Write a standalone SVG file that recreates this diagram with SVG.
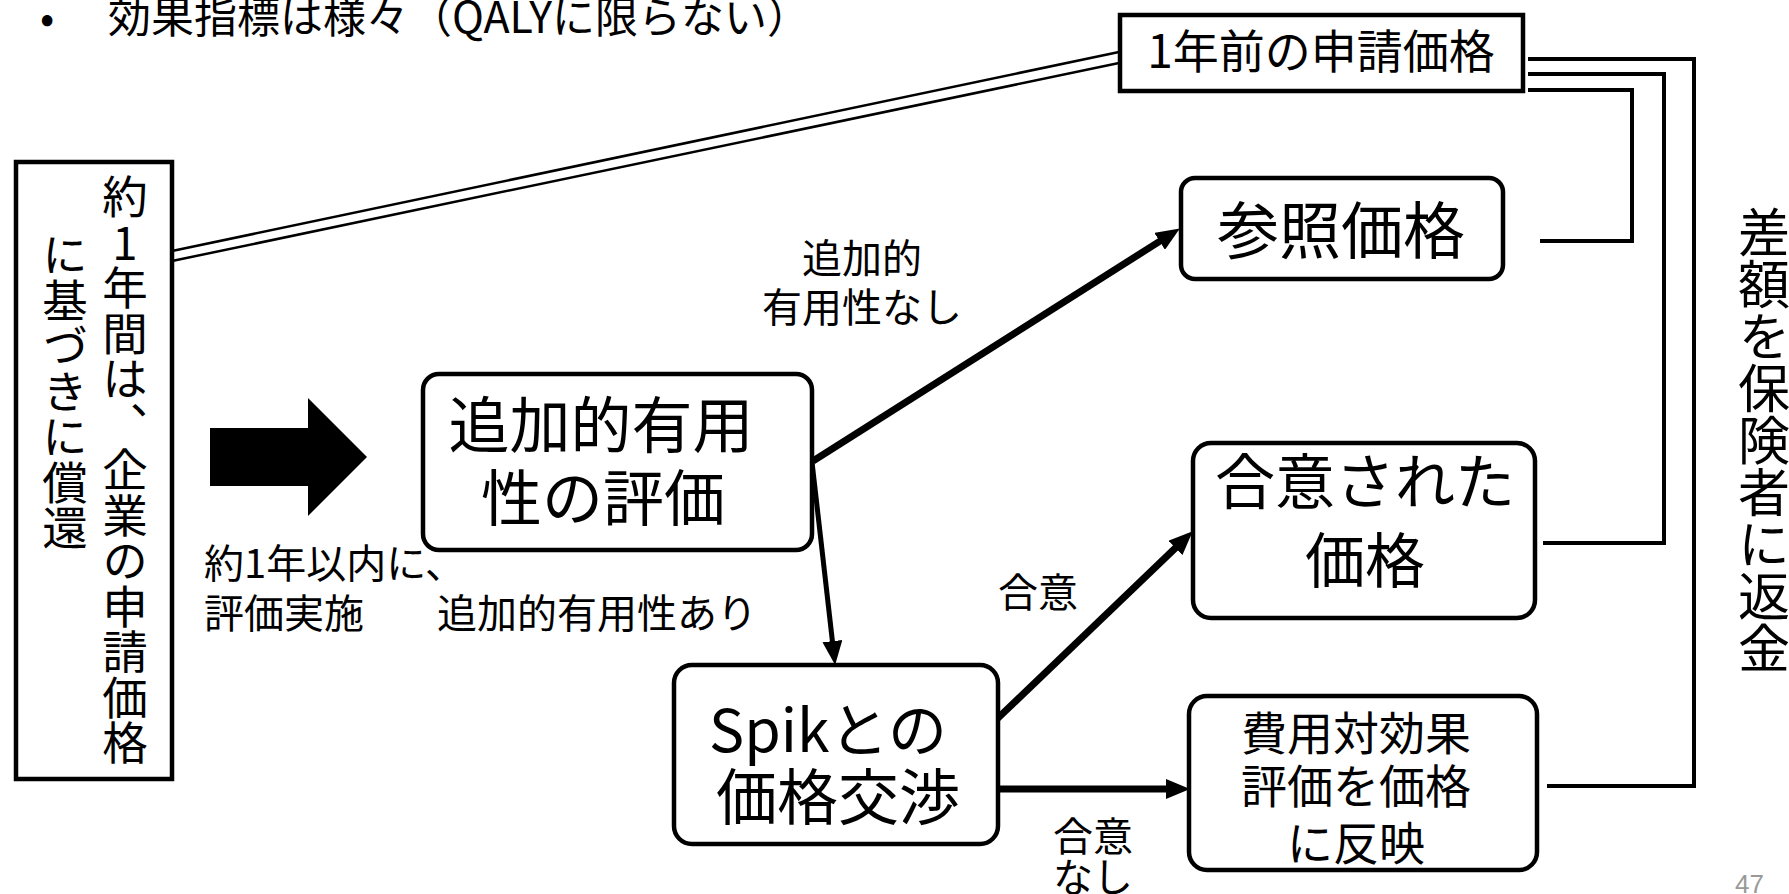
<svg xmlns="http://www.w3.org/2000/svg" width="1789" height="894" viewBox="0 0 1789 894">
<style>
  .t { font-family: "Noto Sans CJK JP", "Noto Sans", sans-serif; fill: #000; }
  .box { fill: #fff; stroke: #000; stroke-width: 4.5; }
  .conn { fill: none; stroke: #000; }
  .vert { writing-mode: vertical-rl; text-orientation: upright; }
</style>
<defs>
  <marker id="ah" viewBox="0 0 24 20" markerUnits="userSpaceOnUse" markerWidth="24" markerHeight="20" refX="7" refY="10" orient="auto">
    <path d="M0,0 L24,10 L0,20 z" fill="#000"/>
  </marker>
</defs>
<rect width="1789" height="894" fill="#fff"/>

<g id="title">
  <text class="t" x="40" y="33" font-size="42" font-family="Liberation Sans, sans-serif">•</text>
  <text class="t" x="108" y="33" font-size="43">効果指標は様々（QALYに限らない）</text>
</g>

<g id="connectors">
  <line class="conn" x1="172" y1="251" x2="1119" y2="52" stroke-width="2.5"/>
  <line class="conn" x1="172" y1="261" x2="1119" y2="63" stroke-width="2.5"/>
  <polyline class="conn" stroke-width="4" points="1528,59 1694,59 1694,786 1547,786"/>
  <polyline class="conn" stroke-width="4" points="1528,74 1664,74 1664,543 1543,543"/>
  <polyline class="conn" stroke-width="4" points="1528,90 1632,90 1632,241 1540,241"/>
  <line class="conn" x1="813" y1="461" x2="1165.5" y2="237.6" stroke-width="7" marker-end="url(#ah)"/>
  <line class="conn" x1="812" y1="462" x2="833.2" y2="648.1" stroke-width="5" marker-end="url(#ah)"/>
  <line class="conn" x1="997" y1="719" x2="1180.5" y2="543.1" stroke-width="7" marker-end="url(#ah)"/>
  <line class="conn" x1="998" y1="789" x2="1173" y2="789" stroke-width="7" marker-end="url(#ah)"/>
  <polygon points="210,428 308,428 308,398 367,457 308,516 308,486 210,486" fill="#000"/>
</g>

<g id="left-box">
  <rect class="box" x="16" y="162" width="156" height="617"/>
  <text class="t vert" x="125" y="174" font-size="45.5">約1年間は、企業の申請価格</text>
  <text class="t vert" x="65" y="232" font-size="45.5">に基づきに償還</text>
</g>

<g id="prev-price">
  <rect class="box" x="1120" y="15" width="403" height="76" stroke-width="5"/>
  <text class="t" x="1321" y="68" font-size="46" text-anchor="middle">1年前の申請価格</text>
</g>

<g id="ref-price">
  <rect class="box" x="1181" y="178" width="322" height="101" rx="14"/>
  <text class="t" x="1341" y="254" font-size="62" text-anchor="middle">参照価格</text>
</g>

<g id="eval">
  <rect class="box" x="423" y="374" width="389" height="176" rx="16"/>
  <text class="t" x="601" y="448" font-size="61" text-anchor="middle">追加的有用</text>
  <text class="t" x="603" y="521" font-size="61" text-anchor="middle">性の評価</text>
</g>

<g id="agreed-price">
  <rect class="box" x="1193" y="443" width="342" height="175" rx="18"/>
  <text class="t" x="1365" y="504" font-size="60" text-anchor="middle">合意された</text>
  <text class="t" x="1365" y="583" font-size="60" text-anchor="middle">価格</text>
</g>

<g id="negotiation">
  <rect class="box" x="674" y="665" width="324" height="179" rx="18"/>
  <text class="t" x="828" y="752" font-size="59" text-anchor="middle">Spikとの</text>
  <text class="t" x="838" y="820" font-size="61" text-anchor="middle">価格交渉</text>
</g>

<g id="cea">
  <rect class="box" x="1189" y="696" width="348" height="174" rx="18"/>
  <text class="t" x="1356" y="750" font-size="46" text-anchor="middle">費用対効果</text>
  <text class="t" x="1356" y="803" font-size="46" text-anchor="middle">評価を価格</text>
  <text class="t" x="1356" y="860" font-size="46" text-anchor="middle">に反映</text>
</g>

<g id="labels">
  <text class="t" x="862" y="273" font-size="40" text-anchor="middle">追加的</text>
  <text class="t" x="862" y="322" font-size="40" text-anchor="middle">有用性なし</text>
  <text class="t" x="204" y="578" font-size="40">約1年以内に、</text>
  <text class="t" x="204" y="628" font-size="40">評価実施</text>
  <text class="t" x="437" y="628" font-size="40">追加的有用性あり</text>
  <text class="t" x="1038" y="607" font-size="40" text-anchor="middle">合意</text>
  <text class="t" x="1093" y="851" font-size="40" text-anchor="middle">合意</text>
  <text class="t" x="1093" y="892" font-size="40" text-anchor="middle">なし</text>
  <text class="t vert" x="1764" y="206" font-size="52">差額を保険者に返金</text>
  <text x="1735" y="893" font-size="26" fill="#999" font-family="Liberation Sans, sans-serif">47</text>
</g>
</svg>
